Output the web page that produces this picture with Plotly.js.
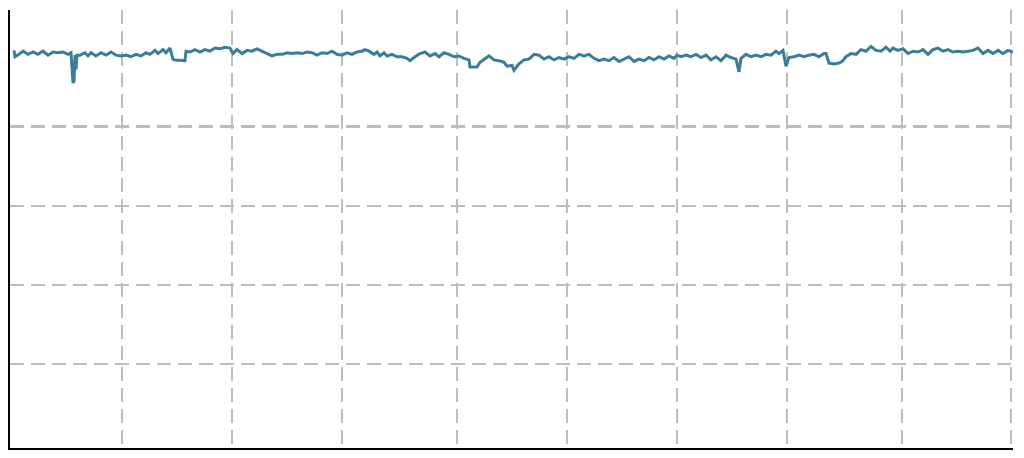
<!DOCTYPE html>
<html>
<head>
<meta charset="utf-8">
<script src="https://cdn.plot.ly/plotly-3.0.1.min.js"></script>
<style>
  html, body { margin: 0; padding: 0; background: #fff; }
  #chart { width: 1024px; height: 458px; }
</style>
</head>
<body>
<div id="chart"></div>
<script>
// time index (sample position) and value
let t = [
    4, 5, 10, 13, 18, 23, 28, 33, 38, 43, 48, 53, 58, 61, 63, 64, 65, 66, 67, 70,
    75, 78, 81, 86, 91, 96, 101, 106, 111, 116, 121, 126, 131, 136, 140, 145, 148, 153, 156, 160,
    163, 165, 175, 176, 180, 185, 190, 195, 200, 205, 210, 215, 220, 223, 227, 232, 237, 242, 247, 252,
    257, 262, 267, 272, 277, 282, 287, 292, 297, 302, 307, 312, 317, 322, 327, 332, 337, 342, 347, 352,
    355, 359, 364, 367, 370, 374, 377, 382, 387, 392, 397, 400, 405, 410, 415, 420, 425, 429, 434, 439,
    444, 449, 454, 459, 460, 467, 470, 475, 479, 484, 489, 494, 497, 502, 504, 509, 514, 519, 524, 529,
    534, 539, 544, 549, 554, 559, 564, 569, 574, 579, 584, 589, 594, 599, 604, 609, 614, 619, 624, 629,
    634, 639, 644, 649, 654, 659, 664, 667, 671, 676, 681, 686, 691, 696, 701, 706, 711, 716, 721, 726,
    729, 731, 736, 741, 746, 751, 756, 761, 766, 769, 773, 776, 779, 784, 789, 794, 799, 804, 809, 814,
    816, 819, 824, 829, 832, 836, 841, 846, 851, 856, 861, 866, 871, 876, 880, 883, 888, 893, 898, 903,
    908, 913, 918, 923, 928, 933, 938, 943, 948, 953, 958, 963, 968, 973, 978, 983, 988, 993, 998, 1003
];
let values = [
    4.96, 4.88, 4.92, 4.95, 4.91, 4.94, 4.91, 4.95, 4.90, 4.94, 4.93, 4.94, 4.91, 4.93, 4.55, 4.57, 4.90, 4.72, 4.90, 4.90,
    4.93, 4.89, 4.93, 4.89, 4.93, 4.90, 4.94, 4.90, 4.89, 4.90, 4.88, 4.91, 4.89, 4.93, 4.91, 4.96, 4.92, 4.97, 4.93, 4.99,
    4.85, 4.84, 4.83, 4.95, 4.94, 4.97, 4.94, 4.97, 4.95, 4.99, 4.98, 5.00, 4.99, 4.92, 4.97, 4.92, 4.96, 4.95, 4.98, 4.95,
    4.92, 4.89, 4.91, 4.91, 4.93, 4.92, 4.93, 4.92, 4.94, 4.93, 4.90, 4.93, 4.92, 4.95, 4.91, 4.90, 4.93, 4.91, 4.94, 4.95,
    4.97, 4.95, 4.91, 4.94, 4.89, 4.93, 4.89, 4.91, 4.88, 4.88, 4.86, 4.83, 4.88, 4.92, 4.94, 4.89, 4.92, 4.88, 4.93, 4.91,
    4.88, 4.89, 4.86, 4.84, 4.75, 4.75, 4.81, 4.86, 4.89, 4.84, 4.83, 4.81, 4.76, 4.77, 4.71, 4.79, 4.84, 4.85, 4.91, 4.90,
    4.85, 4.88, 4.84, 4.87, 4.85, 4.88, 4.86, 4.91, 4.89, 4.91, 4.86, 4.83, 4.85, 4.83, 4.87, 4.82, 4.85, 4.88, 4.82, 4.85,
    4.83, 4.87, 4.84, 4.88, 4.85, 4.89, 4.86, 4.90, 4.88, 4.90, 4.88, 4.91, 4.87, 4.90, 4.84, 4.88, 4.83, 4.90, 4.87, 4.85,
    4.69, 4.86, 4.91, 4.88, 4.90, 4.88, 4.91, 4.90, 4.95, 4.92, 4.96, 4.76, 4.87, 4.88, 4.90, 4.88, 4.90, 4.91, 4.88, 4.92,
    4.92, 4.80, 4.79, 4.80, 4.82, 4.88, 4.92, 4.91, 4.97, 4.95, 5.01, 4.96, 4.95, 5.00, 4.95, 4.99, 4.96, 4.98, 4.92, 4.95,
    4.94, 4.97, 4.91, 4.97, 4.99, 4.95, 4.97, 4.94, 4.95, 4.94, 4.95, 4.96, 4.99, 4.92, 4.96, 4.92, 4.96, 4.92, 4.96, 4.94
];
let xTicks = [112, 222, 332, 447, 557, 667, 777, 892, 1001];
let yTicks = [1, 2, 3, 4];

let gridStyle = {
    showgrid: true,
    gridcolor: '#bdbdbd',
    gridwidth: 2.2,
    griddash: '14px,7px',
    zeroline: false,
    showticklabels: false,
    ticks: '',
    showline: true,
    linecolor: '#000',
    linewidth: 2
};

let trace = {
    x: t,
    y: values,
    type: 'scatter',
    mode: 'lines',
    line: { color: '#3a7d97', width: 3 },
    hoverinfo: 'none'
};

let layout = {
    width: 1024,
    height: 458,
    margin: { l: 10, r: 11, t: 10, b: 10 },
    paper_bgcolor: '#fff',
    plot_bgcolor: '#fff',
    showlegend: false,
    xaxis: Object.assign({}, gridStyle, {
        range: [0, 1003],
        tickmode: 'array',
        tickvals: xTicks
    }),
    yaxis: Object.assign({}, gridStyle, {
        range: [-0.06, 5.47],
        tickmode: 'array',
        tickvals: yTicks
    })
};

Plotly.newPlot('chart', [trace], layout, { staticPlot: true, displayModeBar: false });
</script>
</body>
</html>
